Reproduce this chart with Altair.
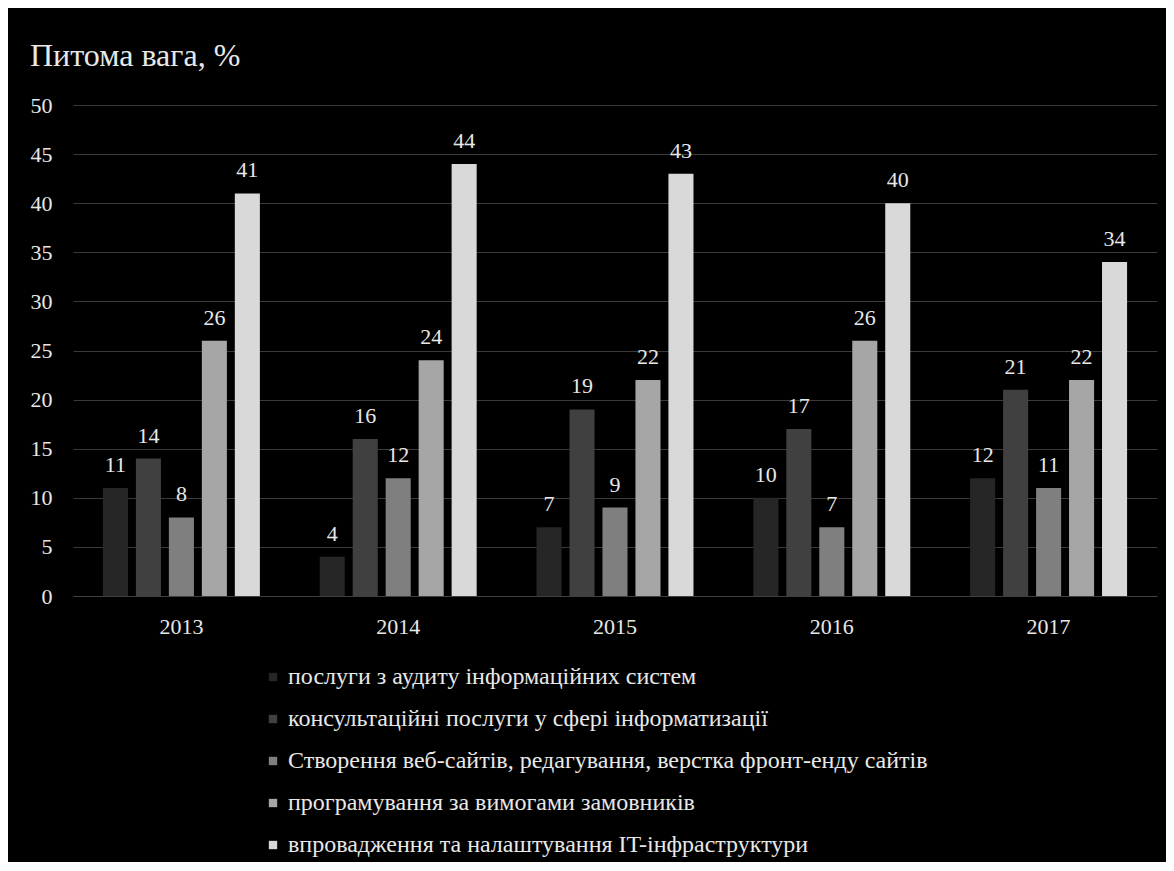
import altair as alt
import pandas as pd

years = ["2013", "2014", "2015", "2016", "2017"]
series = [
    "послуги з аудиту інформаційних  систем",
    "консультаційні  послуги у сфері інформатизації",
    "Створення веб-сайтів, редагування, верстка фронт-енду сайтів",
    "програмування за вимогами замовників",
    "впровадження та налаштування  IT-інфраструктури",
]
audit = [11, 4, 7, 10, 12]
consult = [14, 16, 19, 17, 21]
web = [8, 12, 9, 7, 11]
programming = [26, 24, 22, 26, 22]
infra = [41, 44, 43, 40, 34]
colors = ["#262626", "#404040", "#7f7f7f", "#a6a6a6", "#d9d9d9"]

rows = []
for s, vals in zip(series, [audit, consult, web, programming, infra]):
    for y, v in zip(years, vals):
        rows.append({"year": y, "series": s, "value": v})
df = pd.DataFrame(rows)

FONT = "'Liberation Serif', 'Times New Roman', serif"
TXT = "#e8e8e8"

base = alt.Chart(df).encode(
    x=alt.X("year:N", sort=years,
            scale=alt.Scale(paddingInner=0.276, paddingOuter=0.138),
            axis=alt.Axis(title=None, labelAngle=0, labelFontSize=22, labelFont=FONT,
                          labelColor=TXT, labelPadding=20, ticks=False,
                          domain=True, domainColor="#404040")),
    xOffset=alt.XOffset("series:N", sort=series,
                        scale=alt.Scale(paddingInner=0.24, paddingOuter=0)),
    y=alt.Y("value:Q", scale=alt.Scale(domain=[0, 50], nice=False),
            axis=alt.Axis(title=None, values=list(range(0, 55, 5)), labelFontSize=22,
                          labelFont=FONT, labelColor=TXT, labelPadding=21,
                          ticks=False, domain=False, gridColor="#3a3a3a", gridWidth=1)),
)

bars = base.mark_bar().encode(
    color=alt.Color("series:N", sort=series,
                    scale=alt.Scale(domain=series, range=colors),
                    legend=alt.Legend(title=None, orient="none", legendX=188, legendY=560,
                                      direction="vertical", columns=1,
                                      symbolType="square", symbolSize=70,
                                      symbolStrokeWidth=0, symbolOpacity=1,
                                      labelFont=FONT, labelFontSize=24, labelColor=TXT,
                                      labelLimit=0, rowPadding=18, labelOffset=3))
)

labels = base.mark_text(baseline="bottom", dy=-11, font=FONT, fontSize=22, color=TXT).encode(
    text=alt.Text("value:Q")
)

chart = (
    alt.layer(bars, labels)
    .properties(
        width=1084, height=491,
        title=alt.TitleParams("Питома вага, %", anchor="start", frame="group", dx=-43,
                              offset=-4, baseline="alphabetic", fontSize=32, font=FONT,
                              fontWeight="normal", color=TXT),
        autosize=alt.AutoSizeParams(type="none"),
        padding={"left": 65, "top": 97, "right": 9, "bottom": 266},
        background="#000000",
    )
    .configure_view(stroke=None)
)

chart.save("out.html", embed_options={"renderer": "svg", "actions": False})
